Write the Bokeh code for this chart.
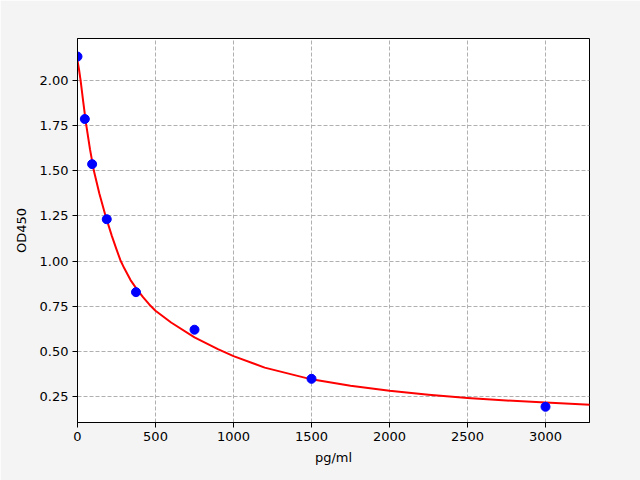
from bokeh.plotting import figure
from bokeh.models import Range1d, FixedTicker, NumeralTickFormatter
from bokeh.embed import file_html
from bokeh.resources import INLINE

# Standard points
conc = [0, 46.875, 93.75, 187.5, 375, 750, 1500, 3000]
od = [2.133, 1.787, 1.537, 1.232, 0.828, 0.62, 0.348, 0.193]

# Fitted curve
curve_x = [0, 10, 20, 37, 55, 80, 105, 140, 180, 220, 250, 275, 300, 340, 380, 420, 460, 500,
           600, 750, 900, 1000, 1200, 1500, 1750, 2000, 2250, 2500, 2750, 3000, 3285]
curve_y = [2.11, 2.06, 2.00, 1.88, 1.76, 1.62, 1.50, 1.375, 1.25, 1.14, 1.065, 1.005, 0.96,
           0.895, 0.845, 0.80, 0.76, 0.725, 0.66, 0.578, 0.512, 0.474, 0.41, 0.345, 0.309,
           0.282, 0.26, 0.242, 0.228, 0.217, 0.205]

x_ticks = [0, 500, 1000, 1500, 2000, 2500, 3000]
y_ticks = [0.25, 0.5, 0.75, 1.0, 1.25, 1.5, 1.75, 2.0]

BG = "#f4f4f4"

p = figure(width=640, height=480, output_backend="svg", toolbar_location=None,
           x_range=Range1d(0, 3282), y_range=Range1d(0.106, 2.233),
           min_border_left=77, min_border_right=51, min_border_top=38, min_border_bottom=58)
p.border_fill_color = BG
p.background_fill_color = "white"
p.outline_line_color = "black"
p.outline_line_width = 1

p.line(curve_x, curve_y, line_color="red", line_width=2, line_join="round")
p.scatter(conc, od, size=9, fill_color="blue", line_color="blue")

for ax in (p.xaxis[0], p.yaxis[0]):
    ax.axis_line_color = "black"
    ax.major_tick_in = 0
    ax.major_tick_out = 5
    ax.minor_tick_out = 0
    ax.minor_tick_in = 0
    ax.major_label_text_font = "DejaVu Sans"
    ax.major_label_text_font_size = "13px"
    ax.major_label_text_color = "black"
    ax.axis_label_text_font = "DejaVu Sans"
    ax.axis_label_text_font_size = "13px"
    ax.axis_label_text_font_style = "normal"
    ax.axis_label_text_color = "black"

p.xaxis[0].ticker = FixedTicker(ticks=x_ticks)
p.yaxis[0].ticker = FixedTicker(ticks=y_ticks)
p.yaxis[0].formatter = NumeralTickFormatter(format="0.00")
p.xaxis[0].axis_label = "pg/ml"
p.yaxis[0].axis_label = "OD450"
p.xaxis[0].axis_label_standoff = 6
p.yaxis[0].axis_label_standoff = 8
p.xaxis[0].major_label_standoff = 4
p.yaxis[0].major_label_standoff = 4

p.xgrid[0].grid_line_color = "#b0b0b0"
p.ygrid[0].grid_line_color = "#b0b0b0"
p.xgrid[0].grid_line_dash = "4 2"
p.ygrid[0].grid_line_dash = "4 2"
p.xgrid[0].grid_line_width = 1
p.ygrid[0].grid_line_width = 1

html = file_html(p, INLINE)
html = html.replace("<body>", '<body style="background-color:%s">' % BG, 1)
open("out.html", "w").write(html)
